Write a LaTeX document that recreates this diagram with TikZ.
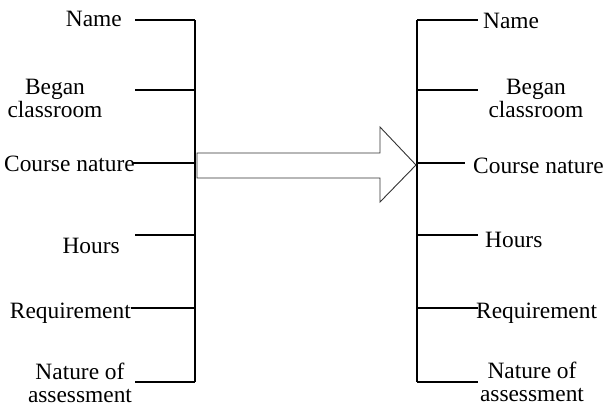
\documentclass[tikz,border=0pt]{standalone}
\usepackage{fontspec}
\setmainfont{Liberation Serif}
\begin{document}
\begin{tikzpicture}[x=1pt,y=-1pt,
  lbl/.style={inner sep=0pt,font=\fontsize{23.4}{23}\selectfont},
  mlbl/.style={lbl,align=center},
  bar/.style={line width=2pt},
  tick/.style={line width=2pt}]
\useasboundingbox (0,0) rectangle (603,408);
% left bracket
\coordinate (LT) at (195,20);
\coordinate (LB) at (195,382);
\draw[bar] (LT) -- (LB);
\node[lbl,anchor=mid east] (l1) at (122,24) {Name};
\node[mlbl] (l2) at (55,98) {Began\\classroom};
\node[lbl,anchor=mid east] (l3) at (135,169) {Course nature};
\node[lbl,anchor=mid east] (l4) at (120,251) {Hours};
\node[lbl,anchor=mid east] (l5) at (131,316) {Requirement};
\node[mlbl] (l6) at (80,383) {Nature of\\assessment};
\foreach \y/\x in {20/135,90/135,163/133,235/135,308/131,382/135}
  \draw[tick] (\x,\y) -- (195,\y);
% right bracket
\coordinate (RT) at (417,20);
\coordinate (RB) at (417,382);
\draw[bar] (RT) -- (RB);
\node[lbl,anchor=mid west] (r1) at (483,26) {Name};
\node[mlbl] (r2) at (536,98) {Began\\classroom};
\node[lbl,anchor=mid west] (r3) at (473,171) {Course nature};
\node[lbl,anchor=mid west] (r4) at (485,245) {Hours};
\node[lbl,anchor=mid west] (r5) at (476,316) {Requirement};
\node[mlbl] (r6) at (532,382) {Nature of\\assessment};
\foreach \y/\x in {20/478,90/478,163/465,235/478,308/478,382/478}
  \draw[tick] (417,\y) -- (\x,\y);
% big arrow
\draw[line width=0.9pt,draw=black!80,fill=white]
  (197,153) -- (380,153) -- (380,127) -- (416,165) -- (380,202) -- (380,178) -- (197,178) -- cycle;
\end{tikzpicture}
\end{document}
